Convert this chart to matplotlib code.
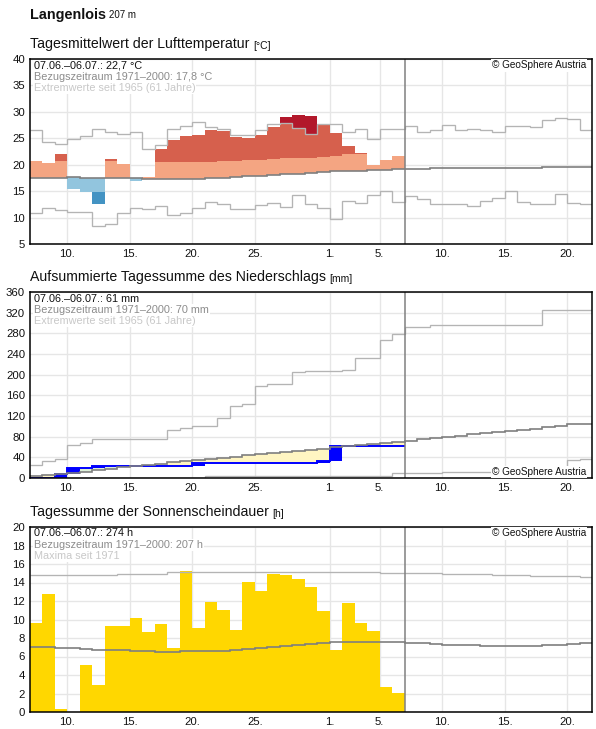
import datetime as dt
import numpy as np
import matplotlib
matplotlib.use("Agg")
import matplotlib.pyplot as plt
import matplotlib.dates as mdates

plt.rcParams['font.family'] = ['Liberation Sans', 'DejaVu Sans']

# ---------------- data ----------------
start_date = dt.date(2025, 6, 7)
n_days_total = 45          # 07.06. - 21.07.
n_days_obs = 30            # 07.06. - 06.07.

tick_dates = [dt.date(2025, 6, 10), dt.date(2025, 6, 15), dt.date(2025, 6, 20),
              dt.date(2025, 6, 25), dt.date(2025, 7, 1), dt.date(2025, 7, 5),
              dt.date(2025, 7, 10), dt.date(2025, 7, 15), dt.date(2025, 7, 20)]
tick_labels = ['10.', '15.', '20.', '25.', '1.', '5.', '10.', '15.', '20.']

# Temperature (daily mean, °C)
temp_obs = [20.7, 20.4, 22.0, 15.5, 14.8, 12.5, 21.1, 20.2, 16.9, 17.75,
            23.0, 24.7, 25.5, 25.6, 26.6, 26.4, 25.25, 25.1, 25.6, 27.2,
            29.1, 29.4, 29.2, 27.5, 26.0, 23.55, 22.3, 20.0, 20.9, 21.7]
temp_hi = [20.8, 20.8, 20.75, 20.7, 20.7, 20.7, 20.75, 20.7, 20.6, 20.5,
           20.45, 20.45, 20.45, 20.6, 20.6, 20.75, 20.75, 20.8, 20.9, 21.1,
           21.35, 21.35, 21.35, 21.5, 21.7, 22.0, 22.0, 22.1, 22.1, 22.2]
temp_lo = [14.8, 14.8, 14.8, 14.8, 14.75, 14.75, 14.75, 14.75, 14.7, 14.65,
           14.65, 14.65, 14.65, 14.65, 14.75, 14.8, 14.95, 15.1, 15.2, 15.4,
           15.55, 15.55, 15.7, 15.85, 16.05, 16.2, 16.2, 16.3, 16.3, 16.4]
temp_mean = [17.5, 17.5, 17.5, 17.6, 17.45, 17.45, 17.45, 17.45, 17.45, 17.35,
             17.35, 17.35, 17.35, 17.35, 17.45, 17.5, 17.65, 17.8, 17.9, 18.1,
             18.25, 18.25, 18.4, 18.55, 18.75, 18.9, 18.9, 19.0, 19.0, 19.1,
             19.15, 19.15, 19.35, 19.35, 19.35, 19.35, 19.35, 19.35, 19.35, 19.35,
             19.35, 19.55, 19.55, 19.55, 19.55]
temp_max = [26.6, 24.25, 23.9, 24.8, 25.4, 26.7, 26.1, 25.9, 26.25, 22.9,
            23.75, 26.8, 27.3, 28.1, 27.1, 26.8, 25.7, 25.6, 26.6, 27.65,
            27.8, 26.9, 25.8, 27.65, 27.65, 26.26, 26.7, 24.8, 26.7, 26.7,
            27.35, 26.1, 26.6, 27.5, 26.6, 26.8, 26.6, 26.2, 27.35, 27.35,
            27.1, 28.5, 28.8, 28.6, 26.6]
temp_min = [10.9, 11.9, 11.4, 11.1, 11.1, 8.4, 8.7, 10.9, 11.75, 11.56,
            12.2, 10.56, 10.9, 11.75, 13.0, 12.6, 11.7, 11.7, 12.44, 12.8,
            12.06, 14.3, 12.6, 11.8, 9.7, 13.2, 12.7, 14.2, 15.0, 12.9,
            14.0, 13.55, 12.55, 12.55, 12.6, 12.2, 13.2, 13.7, 15.0, 12.9,
            12.55, 12.55, 14.5, 12.7, 12.6]

# Precipitation (daily sums, mm) and cumulative reference curves
precip_daily = [0, 0, 7, 12.5, 0, 3.5, 0, 0, 0, 0,
                0, 0, 0, 5.5, 0, 0, 0, 0, 0, 0,
                0, 0, 0, 4.5, 28, 0, 0, 0, 0, 0]
precip_mean_cum = [3.5, 5, 7.5, 9.7, 12.5, 15, 18, 20.5, 22.8, 26,
                   28, 30.5, 32.5, 35, 37, 39, 41.5, 44, 46, 48.5,
                   50.8, 52.7, 55, 57, 60, 61.5, 63.5, 66.5, 68.5, 70,
                   72, 75, 78, 80, 81.7, 84.5, 86.5, 88.5, 91, 93,
                   95.5, 98.6, 100.6, 104, 104]
precip_max_cum = [24.6, 32, 36, 63.5, 67, 75, 75, 75, 75, 75,
                  75, 92.6, 96.5, 100, 100, 116, 140, 144, 179, 182,
                  182, 205, 208, 208, 208, 210, 233, 233, 268, 278,
                  293, 293, 296, 296, 296, 296, 296, 296, 296, 296,
                  296, 326, 326, 326, 326]
precip_min_cum = [0, 0, 0, 0, 0, 0, 0, 0, 0, 0,
                  0, 0, 0, 0, 3, 3, 3, 3, 3, 3,
                  3, 3, 3, 3, 3, 3, 3, 3, 3, 9,
                  10, 10, 10, 12, 12, 12, 12, 13, 13, 13,
                  13, 13, 13, 34, 36]

# Sunshine duration (h)
sun_obs = [9.64, 12.74, 0.3, 0, 5.05, 2.9, 9.28, 9.28, 10.14, 8.63,
           9.5, 6.9, 15.2, 9.06, 11.88, 11.0, 8.85, 14.04, 13.07, 14.9,
           14.8, 14.33, 13.47, 10.9, 6.68, 11.77, 9.6, 8.74, 2.67, 2.02]
sun_mean = [7.07, 7.07, 6.96, 6.96, 6.86, 6.75, 6.68, 6.68, 6.57, 6.57,
            6.46, 6.46, 6.57, 6.57, 6.57, 6.64, 6.75, 6.86, 6.96, 7.07,
            7.18, 7.29, 7.4, 7.43, 7.54, 7.54, 7.54, 7.54, 7.54, 7.54,
            7.5, 7.5, 7.39, 7.28, 7.2, 7.2, 7.1, 7.1, 7.1, 7.1,
            7.1, 7.2, 7.2, 7.3, 7.42]
sun_max = ([14.85] * 7 + [14.95] * 4 + [15.1] * 17 + [15.05] * 2 + [15.0] * 3 +
           [14.95] * 4 + [14.85] * 3 + [14.75] * 2 + [14.65] * 2 + [14.55])

# ---------------- styling ----------------
C_LIGHT_RED = '#f4a582'
C_RED = '#d6604d'
C_DARK_RED = '#b2182b'
C_LIGHT_BLUE = '#92c5de'
C_BLUE = '#4393c3'
C_DARK_BLUE = '#2166ac'
C_EXT = '#b4b4b4'
C_MEAN = '#7f7f7f'
C_GRID = '#e6e6e6'

W, H = 596, 729
fig = plt.figure(figsize=(W / 100, H / 100), dpi=100)

edges = mdates.date2num([start_date + dt.timedelta(days=i) for i in range(n_days_total + 1)])
tick_nums = mdates.date2num(tick_dates)


def make_axes(top_px, bottom_px):
    left_px, right_px = 30, 592
    return fig.add_axes([left_px / W, 1 - bottom_px / H,
                         (right_px - left_px) / W, (bottom_px - top_px) / H])


def setup(ax, ylim, yticks):
    ax.set_xlim(edges[0], edges[-1])
    ax.set_ylim(*ylim)
    ax.set_yticks(yticks)
    ax.set_xticks(tick_nums)
    ax.set_xticklabels(tick_labels)
    ax.grid(True, color=C_GRID, lw=1)
    ax.set_axisbelow(True)
    ax.tick_params(length=0, labelsize=8.2, pad=3.5, colors='#111111')
    for s in ax.spines.values():
        s.set_linewidth(1.1)
        s.set_color('black')
        s.set_zorder(8)
    ax.axvline(edges[n_days_obs], color='#808080', lw=1.1, zorder=6)


def panel_title(ax, top_px, title, unit):
    t = fig.text(30 / W, 1 - (top_px - 15) / H, title, fontsize=10.2,
                 ha='left', va='center', color='#111111')
    ax.annotate(unit, xy=(1, 0), xycoords=t, xytext=(2.5, 0.3),
                textcoords='offset points', fontsize=7.5, ha='left',
                va='bottom', color='#111111', annotation_clip=False)


def info(ax, lines, height_px):
    colors = ['#111111', '#8c8c8c', '#c8c8c8']
    for j, s in enumerate(lines):
        ax.text(4 / 562, 1 - (6.5 + 11.3 * j) / height_px, s, transform=ax.transAxes,
                color=colors[j], fontsize=7.8, ha='left', va='center', zorder=10,
                bbox=dict(fc='white', ec='none', pad=0.6))


def copyright(ax, height_px, top=True):
    y = 1 - 6.5 / height_px if top else 6 / height_px
    ax.text(1 - 6 / 562, y, '© GeoSphere Austria', transform=ax.transAxes,
            fontsize=7.2, ha='right', va='center', color='#111111', zorder=10,
            bbox=dict(fc='white', ec='none', pad=0.8))


# Station header
hdr = fig.text(30 / W, 1 - 14.5 / H, 'Langenlois', fontsize=10.4, fontweight='bold',
               ha='left', va='center', color='#111111')

# ---------------- Panel 1: temperature ----------------
ax1 = make_axes(59, 244)
setup(ax1, (5, 40), range(5, 41, 5))
bx, bb, bh, bc = [], [], [], []
for i in range(n_days_obs):
    o, m = temp_obs[i], temp_mean[i]
    hi, lo, mx, mn = temp_hi[i], temp_lo[i], temp_max[i], temp_min[i]
    if o >= m:
        segs = [(m, min(o, hi), C_LIGHT_RED)]
        if o > hi:
            segs.append((hi, min(o, max(mx, hi)), C_RED))
        if o > mx:
            segs.append((max(mx, hi), o, C_DARK_RED))
    else:
        segs = [(max(o, lo), m, C_LIGHT_BLUE)]
        if o < lo:
            segs.append((max(o, min(mn, lo)), lo, C_BLUE))
        if o < mn:
            segs.append((o, min(mn, lo), C_DARK_BLUE))
    for b0, b1, c in segs:
        if b1 > b0:
            bx.append(edges[i]); bb.append(b0); bh.append(b1 - b0); bc.append(c)
ax1.bar(bx, bh, bottom=bb, width=1.0, align='edge', color=bc, lw=0, zorder=2)
ax1.stairs(temp_max, edges, baseline=None, color=C_EXT, lw=0.95, zorder=4)
ax1.stairs(temp_min, edges, baseline=None, color=C_EXT, lw=0.95, zorder=4)
ax1.stairs(temp_mean, edges, baseline=None, color=C_MEAN, lw=1.2, zorder=5)
panel_title(ax1, 59, 'Tagesmittelwert der Lufttemperatur', '[°C]')
info(ax1, ['07.06.–06.07.: 22,7 °C', 'Bezugszeitraum 1971–2000: 17,8 °C',
           'Extremwerte seit 1965 (61 Jahre)'], 185)
copyright(ax1, 185, top=True)

# ---------------- Panel 2: precipitation ----------------
ax2 = make_axes(292, 478)
setup(ax2, (0, 360), range(0, 361, 40))
cum = np.cumsum(precip_daily)
prev = np.concatenate([[0.0], cum[:-1]])
pmean_obs = np.array(precip_mean_cum[:n_days_obs])
fill_bottom = np.minimum(cum, pmean_obs)
fill_height = np.abs(cum - pmean_obs)
fill_col = ['#fff5c2' if c < m else '#dcefd8' for c, m in zip(cum, pmean_obs)]
ax2.bar(edges[:n_days_obs], fill_height, bottom=fill_bottom, width=1.0, align='edge',
        color=fill_col, lw=0, zorder=2)
daily = np.array(precip_daily)
wet = daily > 0
ax2.bar(edges[:n_days_obs][wet], daily[wet], bottom=prev[wet], width=1.0, align='edge',
        color='#0000ff', lw=0, zorder=3)
ax2.stairs(cum, edges[:n_days_obs + 1], baseline=None, color='#0000ff', lw=1.4, zorder=3)
ax2.stairs(precip_max_cum, edges, baseline=None, color=C_EXT, lw=0.95, zorder=4)
ax2.stairs(precip_min_cum, edges, baseline=None, color=C_EXT, lw=0.95, zorder=4)
ax2.stairs(precip_mean_cum, edges, baseline=None, color=C_MEAN, lw=1.2, zorder=5)
panel_title(ax2, 292, 'Aufsummierte Tagessumme des Niederschlags', '[mm]')
info(ax2, ['07.06.–06.07.: 61 mm', 'Bezugszeitraum 1971–2000: 70 mm',
           'Extremwerte seit 1965 (61 Jahre)'], 186)
copyright(ax2, 186, top=False)

# ---------------- Panel 3: sunshine ----------------
ax3 = make_axes(527, 712)
setup(ax3, (0, 20), range(0, 21, 2))
ax3.bar(edges[:n_days_obs], sun_obs, width=1.0, align='edge', color='#ffd700', lw=0, zorder=2)
ax3.stairs(sun_max, edges, baseline=None, color=C_EXT, lw=0.95, zorder=4)
ax3.stairs(sun_mean, edges, baseline=None, color=C_MEAN, lw=1.2, zorder=5)
panel_title(ax3, 527, 'Tagessumme der Sonnenscheindauer', '[h]')
info(ax3, ['07.06.–06.07.: 274 h', 'Bezugszeitraum 1971–2000: 207 h', 'Maxima seit 1971'], 185)
copyright(ax3, 185, top=True)

fig.canvas.draw()
bb_hdr = hdr.get_window_extent()
fig.text((bb_hdr.x1 + 3) / W, 1 - 15.5 / H, '207 m', fontsize=7, ha='left', va='center',
         color='#111111')

fig.savefig('out.png', dpi=100)
